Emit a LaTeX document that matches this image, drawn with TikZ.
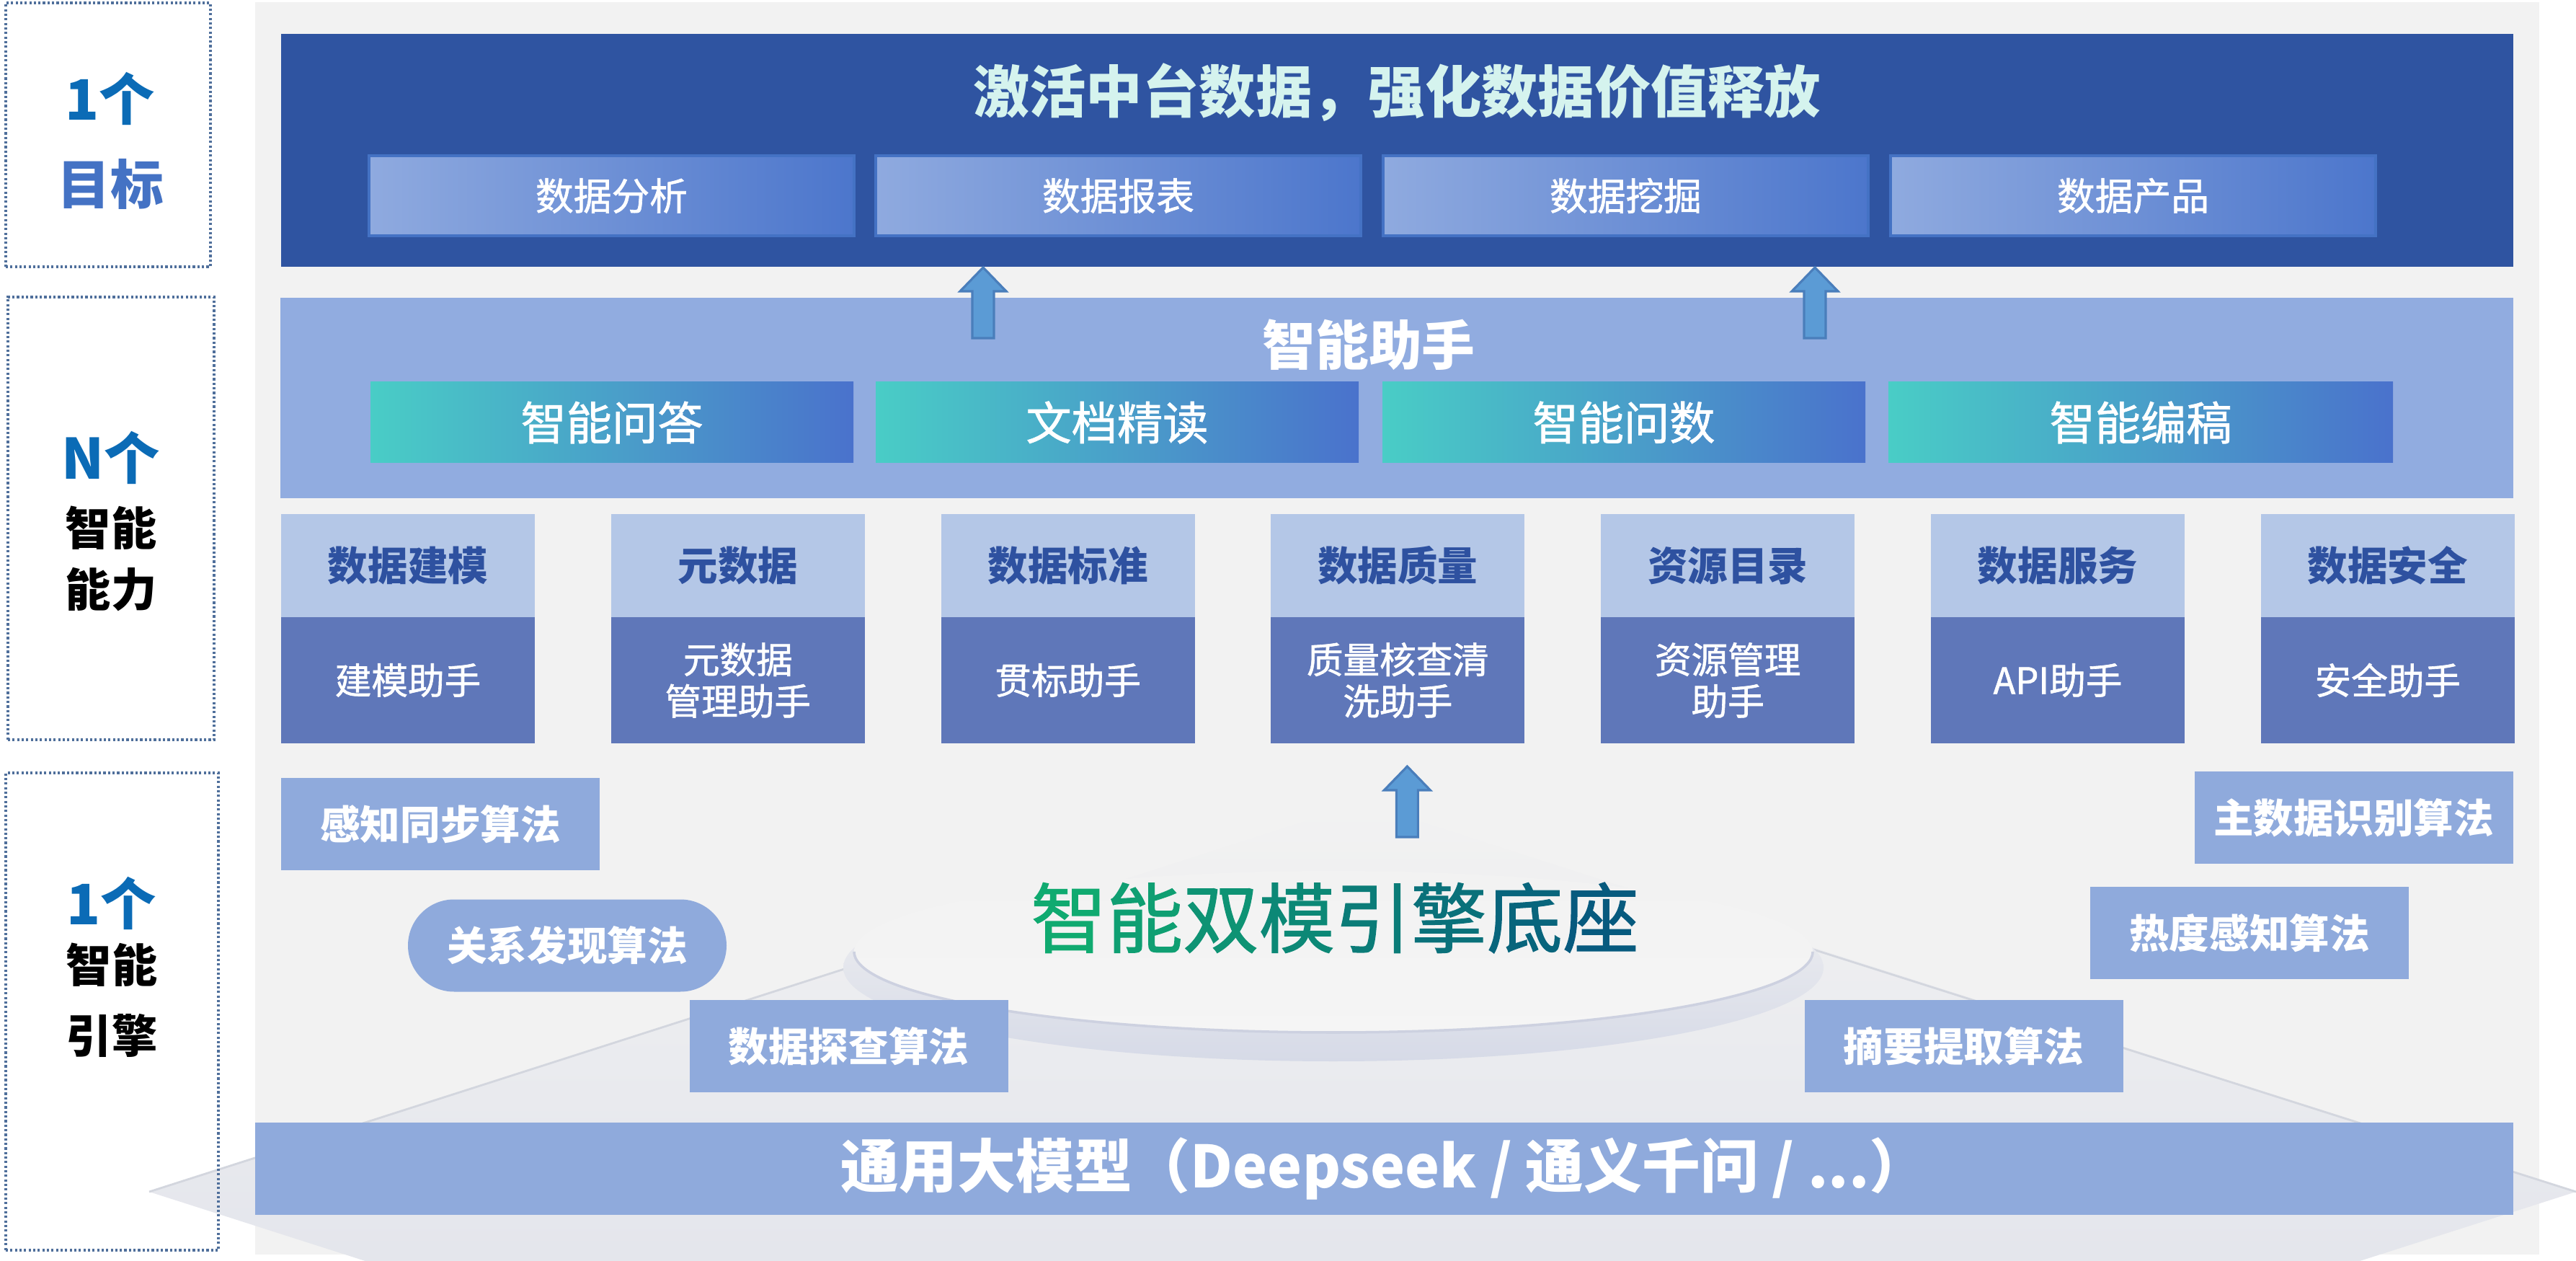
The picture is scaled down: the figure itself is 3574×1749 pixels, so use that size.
\documentclass[tikz,border=0pt]{standalone}
\usepackage{fontspec}
\setmainfont{Noto Sans CJK SC}
\newfontfamily\medfont{Noto Sans CJK SC}[FakeBold=1.2]
\usetikzlibrary{positioning}
\usetikzlibrary{calc}
\definecolor{panelgray}{HTML}{F2F2F2}
\definecolor{goalblue}{HTML}{2F54A1}
\definecolor{titlecyan}{HTML}{D5F3EE}
\definecolor{itemline}{HTML}{4472C4}
\definecolor{itemA}{HTML}{8FAADF}
\definecolor{itemB}{HTML}{4C76CC}
\definecolor{helperblue}{HTML}{91ACE0}
\definecolor{tealA}{HTML}{49CDC6}
\definecolor{tealB}{HTML}{4A72CC}
\definecolor{hdrfill}{HTML}{B4C7E7}
\definecolor{hdrtext}{HTML}{2E51A0}
\definecolor{bodyfill}{HTML}{5F77B9}
\definecolor{algfill}{HTML}{8FAADC}
\definecolor{arrowfill}{HTML}{5B9BD5}
\definecolor{arrowline}{HTML}{4A7EBB}
\definecolor{numblue}{HTML}{0B6BB6}
\definecolor{labelblue}{HTML}{4472C4}
\definecolor{dashcol}{HTML}{4F6F9B}
\definecolor{engA}{HTML}{10AA70}
\definecolor{engB}{HTML}{075A7E}
\definecolor{ringline}{HTML}{CDD1E0}
\definecolor{planeline}{HTML}{D3D6DE}
\definecolor{planeB}{HTML}{DADDE8}
\definecolor{glowB}{HTML}{D6DAE7}
\newcommand\engc[2]{\textcolor{engB!#1!engA}{#2}}

\begin{document}
\begin{tikzpicture}[x=0.1mm, y=-0.1mm,
  tile/.style = {inner sep=0pt, outer sep=0pt, align=center, text=white},
  lab/.style = {draw=dashcol, line width=0.9pt, dash pattern=on 0.9pt off 0.9pt, inner sep=0pt, outer sep=0pt},
  lnum/.style = {text=numblue, font=\bfseries\fontsize{22}{26}\selectfont},
  ltxt/.style = {text=black, font=\bfseries\fontsize{18}{22}\selectfont},
  goalitem/.style = {tile, draw=itemline, line width=1.1pt, left color=itemA, right color=itemB, minimum width=67.3mm, minimum height=11.1mm, font=\medfont\fontsize{15}{18}\selectfont},
  skill/.style = {tile, left color=tealA, right color=tealB, minimum width=67mm, minimum height=11.2mm, font=\medfont\fontsize{18}{22}\selectfont},
  hdr/.style = {tile, fill=hdrfill, text=hdrtext, minimum width=35.2mm, minimum height=14.3mm, font=\bfseries\fontsize{15.8}{19}\selectfont},
  body/.style = {tile, fill=bodyfill, minimum width=35.2mm, minimum height=17.5mm, font=\medfont\fontsize{14.4}{16.4}\selectfont},
  alg/.style = {tile, fill=algfill, minimum width=44.2mm, minimum height=12.8mm, font=\bfseries\fontsize{15.8}{19}\selectfont},
  arrowbody/.style = {fill=arrowfill, draw=arrowline, line width=0.9pt},
  uparrow/.pic = {\draw[arrowbody] (-15,98) -- (-15,33) -- (-32,33) -- (0,0) -- (32,33) -- (15,33) -- (15,98) -- cycle;}]
\useasboundingbox (0,0) rectangle (3574,1749);
\fill[panelgray] (354,3) rectangle (3523,1740);
\begin{scope}
\clip (0,0) rectangle (3574,1749);
\shade[top color=panelgray, bottom color=planeB] (207,1653) -- (1890,1114) -- (3574,1653) -- (1890,2192) -- cycle;
\end{scope}
\draw[planeline, line width=0.8pt] (207,1653) -- (1290,1306);
\draw[planeline, line width=0.8pt] (3574,1653) -- (2494,1310);
\shade[top color=panelgray, bottom color=glowB] (1850,1342) ellipse [x radius=680, y radius=130];
\shade[top color=panelgray, bottom color=black!4] (1850,1320) ellipse [x radius=665, y radius=112];
\draw[ringline, line width=1pt] (1185,1320) arc [start angle=180, end angle=0, x radius=665, y radius=112];

\node[lab, minimum width=28.4mm, minimum height=36.6mm] (l1) at (150,187) {};
\node[lnum] (l1a) at (153,137) {1个};
\node[lnum, text=labelblue, font=\bfseries\fontsize{21}{25}\selectfont] (l1b) at (153,255) {目标};
\node[lab, minimum width=28.6mm, minimum height=61.4mm] (l2) at (154,719) {};
\node[lnum] (l2a) at (154,635) {N个};
\node[ltxt] (l2b) at (154,732) {智能};
\node[ltxt] (l2c) at (154,818) {能力};
\node[lab, minimum width=29.5mm, minimum height=66.2mm] (l3) at (155.5,1403) {};
\node[lnum] (l3a) at (155,1253) {1个};
\node[ltxt] (l3b) at (155,1338) {智能};
\node[ltxt] (l3c) at (155,1436) {引擎};

\node[tile, fill=goalblue, minimum width=309.7mm, minimum height=32.3mm] (goal) at (1938.5,208.5) {};
\node[text=titlecyan, font=\bfseries\fontsize{22.3}{26}\selectfont] (gt) at (1938,128) {激活中台数据，强化数据价值释放};
\node[goalitem] (g1) at (848.5,271.5) {数据分析};
\node[goalitem, right=3mm of g1] (g2) {数据报表};
\node[goalitem, right=3.1mm of g2] (g3) {数据挖掘};
\node[goalitem, right=3.1mm of g3] (g4) {数据产品};

\node[tile, fill=helperblue, minimum width=309.8mm, minimum height=27.8mm] (helper) at (1938,552) {};
\node[text=white, font=\bfseries\fontsize{21}{25}\selectfont] (ht) at (1899,478) {智能助手};
\node[skill] (s1) at (849,586) {智能问答};
\node[skill, right=3.1mm of s1] (s2) {文档精读};
\node[skill, right=3.3mm of s2] (s3) {智能问数};
\node[skill, right=3.2mm of s3, minimum width=70mm] (s4) {智能编稿};

\pic at (1364,371) {uparrow};
\pic at (2518,371) {uparrow};

\node[hdr] (h1) at (566,784.5) {数据建模};
\node[hdr, right=10.58mm of h1] (h2) {元数据};
\node[hdr, right=10.58mm of h2] (h3) {数据标准};
\node[hdr, right=10.58mm of h3] (h4) {数据质量};
\node[hdr, right=10.58mm of h4] (h5) {资源目录};
\node[hdr, right=10.58mm of h5] (h6) {数据服务};
\node[hdr, right=10.58mm of h6] (h7) {数据安全};
\node[body, below=0pt of h1] (b1) {建模助手};
\node[body, below=0pt of h2] (b2) {元数据\\管理助手};
\node[body, below=0pt of h3] (b3) {贯标助手};
\node[body, below=0pt of h4] (b4) {质量核查清\\洗助手};
\node[body, below=0pt of h5] (b5) {资源管理\\助手};
\node[body, below=0pt of h6] (b6) {API助手};
\node[body, below=0pt of h7] (b7) {安全助手};

\pic at ($(b4.south)+(13,32)$) {uparrow};

\node[font=\medfont\fontsize{30}{36}\selectfont] (engine) at (1852,1273) {\engc{0}{智}\engc{14}{能}\engc{29}{双}\engc{43}{模}\engc{57}{引}\engc{71}{擎}\engc{86}{底}\engc{100}{座}};

\node[alg] (a1) at (611,1143) {感知同步算法};
\node[alg, rounded corners=6.4mm] (a2) at (787,1311.5) {关系发现算法};
\node[alg] (a3) at (1177.5,1451) {数据探查算法};
\node[alg] (a4) at (3265.5,1134) {主数据识别算法};
\node[alg] (a5) at (3121,1294) {热度感知算法};
\node[alg] (a6) at (2724.5,1451) {摘要提取算法};

\node[tile, fill=algfill, minimum width=313.3mm, minimum height=12.8mm, font=\bfseries\fontsize{23}{27}\selectfont] (llm) at (1920.5,1621) {通用大模型（Deepseek / 通义千问 / ...）};
\end{tikzpicture}
\end{document}
